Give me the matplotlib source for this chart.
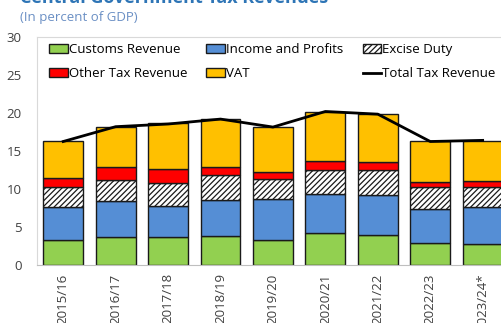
import matplotlib
matplotlib.use("Agg")
import matplotlib.pyplot as plt
import numpy as np

plt.rcParams['font.family'] = ['Open Sans', 'DejaVu Sans']
plt.rcParams['hatch.linewidth'] = 0.9

years = ['2015/16', '2016/17', '2017/18', '2018/19', '2019/20',
         '2020/21', '2021/22', '2022/23', '2023/24*']
customs = [3.3, 3.7, 3.7, 3.8, 3.25, 4.15, 4.0, 2.9, 2.8]
income = [4.3, 4.75, 4.05, 4.8, 5.45, 5.15, 5.15, 4.5, 4.8]
excise = [2.6, 2.75, 3.0, 3.3, 2.6, 3.2, 3.3, 2.8, 2.6]
other = [1.3, 1.7, 1.85, 1.0, 1.0, 1.2, 1.1, 0.75, 0.9]
vat = [4.8, 5.2, 6.05, 6.3, 5.8, 6.4, 6.35, 5.35, 5.2]
total = [16.25, 18.2, 18.55, 19.2, 18.15, 20.2, 19.85, 16.25, 16.4]

fig = plt.figure(figsize=(5.02, 3.23), dpi=100)
ax = fig.add_axes([0.0737, 0.1796, 0.94, 0.7058])

x = np.arange(len(years))
w = 0.76
edge = dict(edgecolor='#1a1a1a', linewidth=1.0)

b = np.zeros(len(years))
h_customs = ax.bar(x, customs, w, bottom=b, color='#92D050', **edge, label='Customs Revenue')
b += customs
h_income = ax.bar(x, income, w, bottom=b, color='#558ED5', **edge, label='Income and Profits')
b += income
h_excise = ax.bar(x, excise, w, bottom=b, color='white', hatch='//////', **edge, label='Excise Duty')
b += excise
h_other = ax.bar(x, other, w, bottom=b, color='#FF0000', **edge, label='Other Tax Revenue')
b += other
h_vat = ax.bar(x, vat, w, bottom=b, color='#FFC000', **edge, label='VAT')
h_total, = ax.plot(x, total, color='black', linewidth=2, label='Total Tax Revenue')

ax.set_xlim(-0.5, 8.5)
ax.set_ylim(0, 30)
ax.set_yticks(range(0, 31, 5))
ax.set_xticks(x)
ax.set_xticklabels(years, rotation=90, fontsize=9.5, color='#404040')
ax.tick_params(axis='y', labelsize=9.5, labelcolor='#404040', length=0, pad=11)
ax.tick_params(axis='x', length=0, pad=6)
for s in ['top', 'left']:
    ax.spines[s].set_color('#d9d9d9')
ax.spines['right'].set_visible(False)
ax.spines['bottom'].set_color('#bfbfbf')

ax.legend(handles=[h_customs, h_other, h_income, h_vat, h_excise, h_total],
          ncol=3, loc='upper left', bbox_to_anchor=(0.013, 1.0), frameon=False,
          fontsize=9.5, handlelength=1.4, handleheight=0.7, handletextpad=0.1,
          columnspacing=1.45, labelspacing=0.86, borderaxespad=0.05)

fig.text(0.04, 1.005, 'Central Government Tax Revenues', fontsize=13, fontweight='bold',
         color='#2E75B6', va='center', ha='left')
fig.text(0.04, 0.945, '(In percent of GDP)', fontsize=9.5, color='#6A8FC4',
         va='center', ha='left')

fig.savefig('out.png', dpi=100)
